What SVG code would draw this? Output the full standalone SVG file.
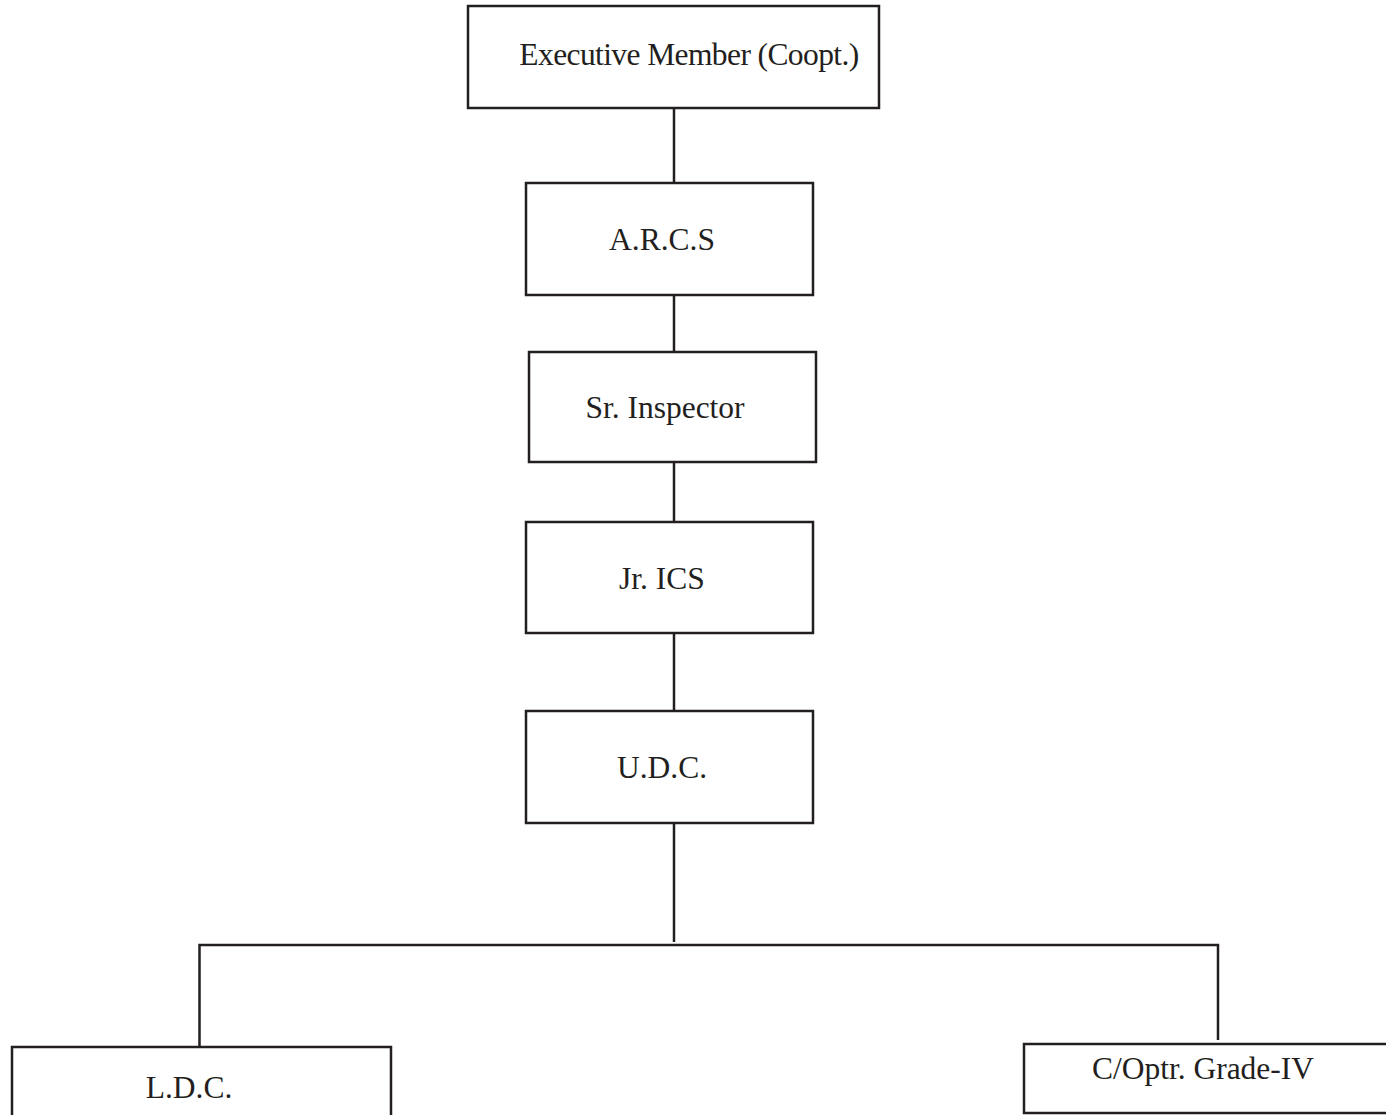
<svg xmlns="http://www.w3.org/2000/svg" width="1386" height="1115" viewBox="0 0 1386 1115">
  <style>
    .box { fill: #ffffff; stroke: #231f20; stroke-width: 2.5; }
    .wire { fill: none; stroke: #231f20; stroke-width: 2.5; }
    .label { font-family: "Liberation Serif", "Times New Roman", serif; font-size: 31.5px; fill: #231f20; text-anchor: middle; }
  </style>
  <rect width="1386" height="1115" fill="#ffffff"/>

  <!-- connectors -->
  <g id="connectors">
    <line class="wire" x1="674" y1="108" x2="674" y2="183"/>
    <line class="wire" x1="674" y1="295" x2="674" y2="352"/>
    <line class="wire" x1="674" y1="462" x2="674" y2="522"/>
    <line class="wire" x1="674" y1="633" x2="674" y2="711"/>
    <line class="wire" x1="674" y1="823" x2="674" y2="942"/>
    <polyline class="wire" points="199.5,1046 199.5,945 1218,945 1218,1040"/>
  </g>

  <g id="executive-member">
    <rect class="box" x="468" y="6" width="411" height="102"/>
    <text class="label" x="689" y="65" letter-spacing="-0.6">Executive Member (Coopt.)</text>
  </g>

  <g id="arcs">
    <rect class="box" x="526" y="183" width="287" height="112"/>
    <text class="label" x="662" y="250">A.R.C.S</text>
  </g>

  <g id="sr-inspector">
    <rect class="box" x="529" y="352" width="287" height="110"/>
    <text class="label" x="665" y="418">Sr. Inspector</text>
  </g>

  <g id="jr-ics">
    <rect class="box" x="526" y="522" width="287" height="111"/>
    <text class="label" x="662" y="589">Jr. ICS</text>
  </g>

  <g id="udc">
    <rect class="box" x="526" y="711" width="287" height="112"/>
    <text class="label" x="662" y="778">U.D.C.</text>
  </g>

  <g id="ldc">
    <rect class="box" x="12" y="1047" width="379" height="80"/>
    <text class="label" x="189" y="1098">L.D.C.</text>
  </g>

  <g id="c-optr-grade-iv">
    <rect class="box" x="1024" y="1044" width="380" height="69"/>
    <text class="label" x="1203" y="1079">C/Optr. Grade-IV</text>
  </g>
</svg>
